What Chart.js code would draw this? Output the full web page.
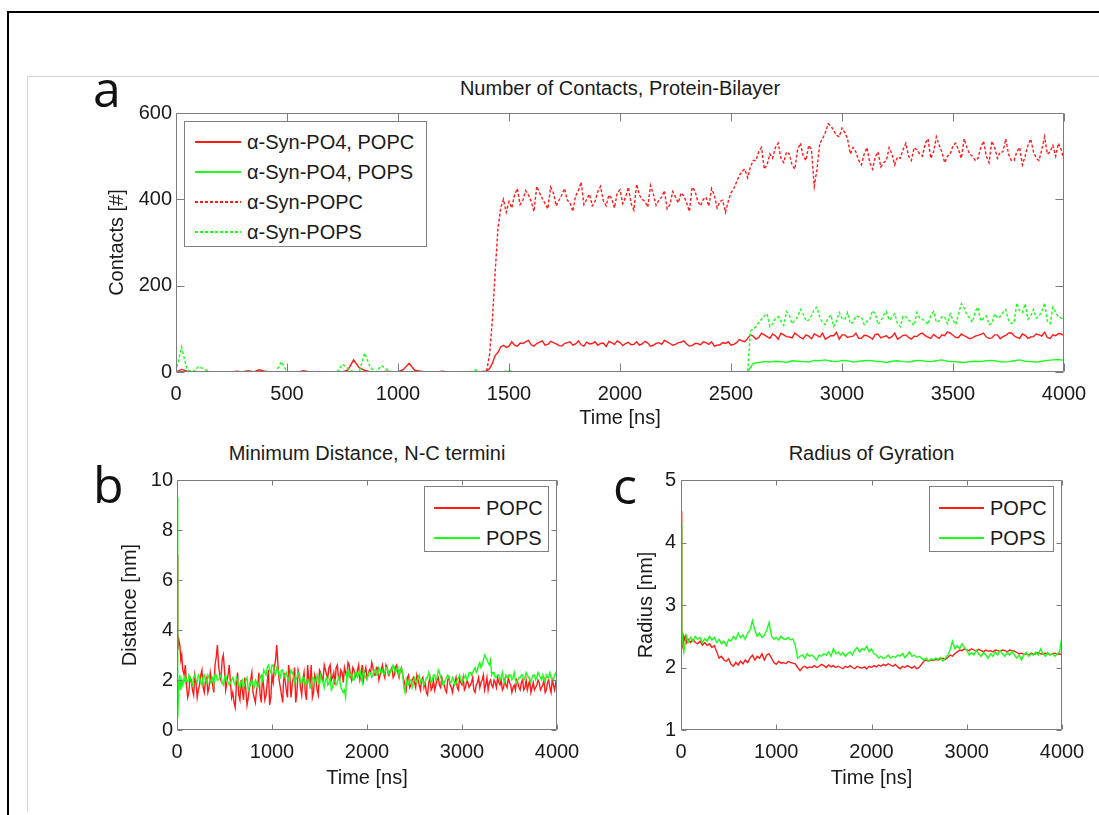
<!DOCTYPE html>
<html><head><meta charset="utf-8">
<script src="https://cdn.jsdelivr.net/npm/chart.js@4.4.1/dist/chart.umd.min.js"></script>
<style>
html,body{margin:0;padding:0;background:#fff;}
body{width:1099px;height:815px;position:relative;overflow:hidden;font-family:"Liberation Sans",Arial,sans-serif;color:#1a1a1a;}
.abs{position:absolute;}
#frameBlack{left:7px;top:11px;width:1100px;height:810px;border-left:2px solid #000;border-top:2px solid #000;}
#frameGrey{left:27px;top:76px;width:1080px;height:735px;border-left:1px solid #d6d6d6;border-top:1px solid #d6d6d6;}
.letter{font-family:"Open Sans",sans-serif;font-size:50px;line-height:50px;color:#111;}
.ptitle{font-size:20px;line-height:24px;text-align:center;white-space:nowrap;color:#1a1a1a;}
.legend{border:1px solid #808080;background:#fff;box-sizing:border-box;}
.leg-row{height:30px;display:flex;align-items:center;font-size:20px;white-space:nowrap;color:#1a1a1a;}
.leg-line{height:2px;margin-right:6px;flex:none;}
canvas{position:absolute;}
</style></head>
<body>
<div id="frameBlack" class="abs"></div>
<div id="frameGrey" class="abs"></div>

<div class="abs letter" style="left:93px;top:63px;">a</div>
<div class="abs letter" style="left:93px;top:459px;">b</div>
<div class="abs letter" style="left:613px;top:460px;">c</div>

<div class="abs ptitle" style="left:176px;width:888px;top:76px;">Number of Contacts, Protein-Bilayer</div>
<div class="abs ptitle" style="left:177px;width:380px;top:441px;">Minimum Distance, N-C termini</div>
<div class="abs ptitle" style="left:681px;width:381px;top:441px;">Radius of Gyration</div>

<canvas id="chartA" width="1069" height="345" style="left:30px;top:95px;"></canvas>
<canvas id="chartB" width="570" height="372" style="left:30px;top:440px;"></canvas>
<canvas id="chartC" width="499" height="372" style="left:600px;top:440px;"></canvas>

<div id="legA" class="abs legend" style="left:184px;top:121px;width:243px;height:126px;padding:5px 0 0 10px;"></div>
<div id="legB" class="abs legend" style="left:424px;top:486px;width:125px;height:66px;padding:6px 0 0 9px;"></div>
<div id="legC" class="abs legend" style="left:929px;top:486px;width:125px;height:66px;padding:6px 0 0 9px;"></div>

<script>
// ---------- Panel a: Number of contacts (main samples every 25 ns) ----------
const timeA = [];
for (let t = 0; t <= 4000; t += 25) timeA.push(t);

const contactsPO4POPC = [
0,6,2,0,0,0,0,0,0,0,
0,2,0,3,0,5,2,0,0,0,
0,0,0,3,0,0,0,0,0,0,
0,5,28,10,4,0,0,0,2,0,
0,6,20,4,2,0,0,0,2,0,
0,0,0,0,0,0,2,20,45,62,
60,62,67,70,63,66,72,64,68,61,
66,70,65,63,69,66,62,67,71,64,
68,66,63,70,65,67,62,68,73,66,
64,69,65,61,66,70,64,60,63,66,
62,68,72,78,83,80,86,78,84,90,
82,79,85,77,83,88,81,76,84,92,
86,80,83,78,85,81,87,79,84,82,
76,85,80,83,88,84,78,82,86,93,
85,80,84,77,83,87,81,79,86,82,
90,84,78,85,81,88,83,80,86,89,
84];
// extra in-between samples (t = 1412.5 + 25k)
const contactsPO4POPCmid = [
8,38,58,57,
70,60,66,73,60,69,62,71,65,60,
68,62,72,60,65,70,66,59,68,72,
61,69,64,62,71,60,66,64,70,62,
68,72,60,66,63,68,70,62,68,
70,
64,75,70,86,
76,90,82,88,76,86,81,90,80,86,
77,85,90,80,84,76,86,82,90,78,
84,76,88,82,78,90,80,86,76,82,
90,81,87,78,84,90,80,88,81,79,
85,90,78,86,77,85,91,80,88,78,
82,86,92,78,84,88];

const contactsPO4POPS = [
0,0,0,0,0,0,0,0,0,0,
0,0,0,0,0,0,0,0,0,0,
0,0,0,0,0,0,0,0,0,0,
0,0,0,0,0,0,0,0,0,0,
0,0,0,0,0,0,0,0,0,0,
0,0,0,0,0,0,0,0,0,0,
0,0,0,0,0,0,0,0,0,0,
0,0,0,0,0,0,0,0,0,0,
0,0,0,0,0,0,0,0,0,0,
0,0,0,0,0,0,0,0,0,0,
0,0,0,0,20,22,24,23,25,24,
22,26,25,24,23,27,26,28,25,24,
27,26,23,25,26,27,25,24,22,25,
26,24,23,26,27,25,24,26,28,25,
24,23,22,24,25,24,26,27,25,23,
24,26,28,25,24,23,25,27,28,29,
27];

const contactsPOPC = [
0,0,0,0,0,0,0,0,0,0,
0,0,0,0,0,0,0,0,0,0,
0,0,0,0,0,0,0,0,0,0,
0,0,0,0,0,0,0,0,0,0,
0,0,0,0,0,0,0,0,0,0,
0,0,0,0,0,0,5,120,330,400,
395,410,388,420,395,430,402,378,415,398,
425,392,408,440,400,385,418,396,410,380,
422,405,390,435,400,382,412,398,420,388,
405,415,392,428,396,400,384,410,395,370,
415,440,465,450,490,510,470,505,520,495,
510,480,515,500,525,430,530,555,570,548,
565,540,520,490,505,485,498,475,490,505,
498,515,500,520,505,530,495,545,510,500,
525,515,540,505,490,520,500,535,495,510,
505,490,520,500,540,495,515,505,525,530,
490];
// extra in-between samples (t = 1412.5 + 25k)
const contactsPOPCmid = [
40,230,380,370,
380,425,398,410,372,415,390,428,385,410,
398,372,420,388,412,395,430,385,402,415,
390,428,375,410,395,432,386,405,378,418,
392,408,372,420,385,405,425,380,398,
395,
425,455,470,475,
490,520,480,495,530,485,505,470,530,490,
515,470,540,575,560,545,555,505,510,480,
520,470,510,485,520,480,495,530,490,515,
500,540,510,525,485,505,530,495,520,500,
495,535,485,520,510,540,490,510,480,525,
510,490,545,510,500,515];

const contactsPOPS = [
0,58,5,0,12,8,0,0,0,0,
0,0,0,0,0,0,0,0,0,24,
0,0,0,0,0,0,0,0,0,0,
18,8,0,0,44,10,0,15,6,0,
0,0,0,0,0,0,0,0,0,0,
0,0,0,0,5,0,0,0,0,0,
4,0,0,0,0,0,0,0,0,0,
0,0,0,0,0,0,0,0,0,0,
0,0,0,0,0,0,0,0,0,0,
0,0,0,0,0,0,0,0,0,0,
0,0,0,0,100,115,130,105,125,118,
140,112,128,135,120,145,125,110,132,118,
124,138,115,128,110,122,135,118,140,126,
112,130,120,108,125,118,132,115,128,112,
120,135,148,125,140,118,130,112,125,138,
120,115,142,158,130,125,140,118,150,128,
120];
// extra in-between samples (t = 2587.5 + 25k)
const contactsPOPSmid = [
95,
105,122,135,112,128,108,132,120,145,118,
130,150,115,125,105,138,122,112,130,126,
118,142,110,132,120,135,105,128,115,138,
122,110,140,118,128,135,110,158,132,115,
150,125,110,135,128,145,112,160,138,122,
145,130,160,112,138,125];

const namesA = ['α-Syn-PO4, POPC', 'α-Syn-PO4, POPS', 'α-Syn-POPC', 'α-Syn-POPS'];
const xTicksA = [0,500,1000,1500,2000,2500,3000,3500,4000];
const yTicksA = [0,200,400,600];

// ---------- Panels b, c (early dense samples, then 25 ns step) ----------
const timeB = [0,5,10,20,30,40,50,60,75];
for (let t = 100; t <= 4000; t += 25) timeB.push(t);

const distPOPC = [7.0,6.2,3.2,3.6,3.4,2.8,3.0,2.4,2.2,
1.8,1.5,2.0,1.4,1.9,1.6,2.2,1.7,2.0,1.5,
2.3,1.8,2.6,3.4,2.2,2.8,2.4,1.9,2.6,1.3,
1.1,1.8,1.4,2.0,1.2,1.6,1.3,2.0,1.5,1.1,
1.8,1.4,2.2,1.2,1.9,1.0,2.2,2.5,3.4,2.0,
1.4,2.3,1.6,2.6,1.3,2.1,1.1,2.4,1.7,2.0,
1.5,2.6,1.8,1.3,2.2,1.6,2.4,2.1,2.6,2.2,
2.5,2.0,2.3,2.5,2.1,2.4,1.9,2.3,2.7,2.2,
2.5,2.1,2.4,2.0,2.6,2.3,2.1,2.4,2.7,2.2,
2.5,2.0,2.4,2.3,2.6,2.2,2.4,2.1,2.5,2.3,
2.4,2.2,1.8,2.1,1.7,2.0,1.9,2.2,1.8,2.0,
1.7,1.5,1.9,1.6,2.0,1.8,2.1,1.7,1.9,1.6,
2.0,1.8,1.5,1.9,1.7,2.1,1.8,1.6,2.0,1.7,
1.9,1.6,1.8,2.1,1.9,2.2,1.8,1.6,2.0,1.7,
1.9,2.1,1.8,1.6,2.0,1.7,1.9,1.5,1.8,2.0,
1.7,1.9,1.6,2.0,1.8,1.5,1.9,1.7,2.0,1.6,
1.8,1.5,1.9,1.7,2.0,1.6,1.8];
// extra in-between samples (t = 87.5 + 25k)
const distPOPCmid = [
2.6,1.3,2.1,1.6,2.2,1.3,1.8,2.4,1.5,2.1,
1.7,2.0,1.5,2.9,2.6,2.0,3.0,1.6,2.2,1.9,
1.5,0.9,2.3,1.2,1.6,2.1,1.0,1.7,2.3,1.3,
1.6,2.3,1.1,1.7,1.4,2.4,1.3,1.9,2.8,2.6,
1.7,1.1,2.0,1.3,2.2,1.8,2.5,1.5,2.2,1.4,
2.3,1.2,2.0,2.6,1.5,2.0,1.4,2.3,2.0,2.4,
2.1,2.6,2.1,1.8,2.6,2.0,2.3,2.5,2.1,2.6,
2.0,2.4,2.2,2.6,2.2,2.0,2.5,2.2,2.3,2.5,
2.2,2.5,2.2,2.6,2.1,2.5,2.3,2.5,2.2,2.6,
2.1,2.5,2.0,1.6,2.2,1.8,2.1,1.7,2.0,1.6,
2.1,1.9,1.4,2.1,1.7,1.6,2.0,1.8,2.1,1.8,
1.5,2.1,1.7,1.8,2.1,1.6,1.9,2.1,1.7,1.9,
1.8,2.1,1.5,1.9,1.7,2.0,1.6,2.1,1.9,1.8,
2.0,1.7,1.9,2.0,1.7,1.8,2.1,1.8,1.7,1.6,
1.9,1.6,2.0,1.7,1.6,2.0,1.7,1.6,1.8,1.9,
1.7,2.0,1.6,2.0,1.5,1.8,1.9];

const distPOPS = [9.3,4.0,0.5,1.8,2.2,1.6,2.0,1.8,2.1,
2.0,2.2,1.9,2.1,2.0,2.2,1.9,2.1,2.0,2.2,
1.9,2.1,2.2,2.0,2.1,1.9,2.1,2.0,1.8,2.0,
1.9,2.1,1.8,1.9,1.7,2.0,1.6,1.9,1.8,2.0,
1.7,2.1,2.0,2.3,2.5,2.4,2.6,2.3,2.5,2.2,
2.4,2.1,2.3,2.0,2.4,2.2,2.0,2.3,1.9,2.1,
1.8,2.0,1.7,2.1,1.9,2.2,1.8,2.0,1.7,2.1,
1.9,1.6,2.0,1.8,2.1,1.7,1.5,1.3,2.4,2.2,
2.0,2.3,2.1,2.4,1.9,2.2,2.0,2.3,2.1,2.4,
2.2,2.5,2.3,2.2,2.5,2.3,2.4,2.6,2.3,2.5,
2.4,2.3,1.5,1.8,2.0,1.7,2.1,1.9,2.2,2.0,
1.8,2.1,2.3,1.9,2.2,2.0,2.4,2.1,1.8,2.0,
2.2,1.9,2.1,1.8,2.0,2.2,1.9,2.1,2.0,2.3,
2.2,2.4,2.3,2.6,2.5,2.8,2.9,2.7,2.8,2.3,
2.1,2.2,2.0,2.3,1.9,2.1,2.2,2.0,2.3,1.9,
2.1,2.2,2.0,2.3,2.1,1.9,2.2,2.0,2.3,2.1,
2.2,1.9,2.1,2.3,2.0,2.2,2.1];
// extra in-between samples (t = 87.5 + 25k)
const distPOPSmid = [
1.9,1.9,2.1,1.8,2.2,1.9,2.1,1.8,2.2,1.9,
2.1,2.0,1.8,2.2,2.0,2.2,1.8,2.2,1.9,1.9,
2.1,1.8,2.0,1.7,2.0,1.8,2.1,1.7,2.0,1.7,
1.9,1.8,2.2,2.4,2.2,2.6,2.3,2.6,2.2,2.4,
2.1,2.4,2.2,2.1,2.2,2.3,1.9,2.1,2.2,1.9,
2.1,1.9,2.0,1.8,2.1,2.0,1.9,2.2,1.9,2.0,
1.8,2.1,1.7,2.0,1.9,2.0,1.6,1.6,2.3,2.1,
2.2,2.0,2.3,2.2,2.1,2.4,2.1,2.2,2.3,2.2,
2.4,2.2,2.4,2.4,2.3,2.5,2.2,2.4,2.5,2.4,
2.2,2.5,1.7,2.0,1.8,2.0,1.9,2.0,2.1,1.9,
2.0,1.9,2.1,2.1,2.0,2.2,2.1,2.3,2.0,1.9,
2.1,2.1,1.9,2.0,1.9,2.1,2.0,2.0,2.2,2.1,
2.3,2.3,2.5,2.4,2.7,2.6,3.0,2.8,2.6,2.2,
2.3,2.1,2.2,2.1,2.0,2.2,2.1,2.2,2.1,2.0,
2.0,2.1,2.2,2.1,2.2,2.0,2.1,2.2,2.1,2.2,
2.0,2.0,2.2,2.1,2.1,2.0,2.3];

const rgPOPC = [4.5,3.5,2.6,2.3,2.5,2.45,2.5,2.4,2.45,
2.4,2.45,2.4,2.38,2.42,2.36,2.4,2.35,2.38,2.32,
2.35,2.25,2.15,2.18,2.12,2.1,2.14,2.05,2.02,2.08,
2.04,2.1,2.06,2.12,2.08,2.15,2.2,2.12,2.18,2.15,
2.22,2.12,2.2,2.22,2.15,2.08,2.05,2.1,2.07,2.08,
2.06,2.1,2.08,2.07,2.06,2.0,1.95,2.0,2.02,1.99,
2.01,2.0,2.03,2.0,2.02,2.05,2.03,2.0,2.04,2.01,
2.03,2.0,2.02,2.0,1.98,2.02,2.0,2.03,2.0,1.98,
2.02,2.0,1.99,2.01,1.98,2.02,2.0,2.03,2.01,2.04,
2.02,2.05,2.03,2.06,2.04,2.02,2.05,2.01,1.98,2.02,
2.0,2.03,2.01,1.99,2.02,1.98,2.0,2.05,2.1,2.12,
2.1,2.12,2.11,2.13,2.12,2.14,2.15,2.13,2.16,2.2,
2.18,2.22,2.25,2.28,2.27,2.3,2.28,2.27,2.3,2.28,
2.26,2.29,2.27,2.25,2.28,2.26,2.27,2.25,2.28,2.27,
2.26,2.28,2.27,2.25,2.28,2.27,2.26,2.24,2.22,2.23,
2.21,2.22,2.2,2.23,2.21,2.22,2.24,2.22,2.21,2.23,
2.22,2.2,2.22,2.23,2.21,2.22,2.2];

const rgPOPS = [4.3,3.0,2.6,2.4,2.25,2.35,2.45,2.5,2.4,
2.48,2.42,2.5,2.45,2.48,2.4,2.46,2.42,2.5,2.44,
2.48,2.4,2.45,2.38,2.42,2.35,2.45,2.42,2.5,2.45,
2.55,2.48,2.52,2.45,2.55,2.6,2.75,2.6,2.5,2.55,
2.48,2.52,2.6,2.72,2.5,2.45,2.48,2.44,2.5,2.46,
2.45,2.48,2.44,2.46,2.35,2.15,2.18,2.2,2.15,2.22,
2.18,2.2,2.16,2.12,2.2,2.18,2.22,2.2,2.25,2.18,
2.3,2.22,2.25,2.2,2.24,2.18,2.22,2.25,2.2,2.28,
2.32,2.25,2.3,2.28,2.34,2.25,2.3,2.22,2.2,2.15,
2.18,2.14,2.16,2.2,2.15,2.18,2.16,2.2,2.18,2.22,
2.16,2.2,2.25,2.18,2.2,2.16,2.18,2.15,2.12,2.15,
2.1,2.14,2.12,2.15,2.13,2.16,2.1,2.15,2.2,2.28,
2.42,2.3,2.35,2.3,2.38,2.32,2.28,2.2,2.24,2.2,
2.28,2.22,2.18,2.24,2.2,2.15,2.22,2.18,2.25,2.2,
2.27,2.22,2.18,2.24,2.2,2.26,2.2,2.15,2.2,2.12,
2.2,2.24,2.18,2.22,2.2,2.25,2.2,2.3,2.22,2.18,
2.24,2.2,2.22,2.18,2.22,2.25,2.5];

const namesBC = ['POPC', 'POPS'];
const xTicksBC = [0,1000,2000,3000,4000];
const yTicksB = [0,2,4,6,8,10];
const yTicksC = [1,2,3,4,5];

// ---------- helpers ----------
function midTimes(start, count) {
  const out = [];
  for (let k = 0; k < count; k++) out.push(start + 25 * k);
  return out;
}
function toPoints(times, values, mTimes, mValues) {
  const pts = times.map((t, i) => ({x: t, y: values[i]}));
  if (mTimes) mTimes.forEach((t, i) => pts.push({x: t, y: mValues[i]}));
  pts.sort((p, q) => p.x - q.x);
  return pts;
}

// ---------- styling ----------
const RED = '#ff1a1a', GREEN = '#1aff1a';
const FONT = {family: '"Liberation Sans", Arial, sans-serif', size: 20};
const TXT = '#1a1a1a';

const boxTicks = {
  id: 'boxTicks',
  afterDatasetsDraw(chart, args, opts) {
    const {ctx, chartArea: a} = chart;
    const xs = chart.scales.x, ys = chart.scales.y;
    const L = opts.len;
    const l = Math.round(a.left) + 0.5, r = Math.round(a.right) - 0.5;
    const t = Math.round(a.top) + 0.5, b = Math.round(a.bottom) - 0.5;
    ctx.save();
    ctx.strokeStyle = '#7c7c7c';
    ctx.lineWidth = 1;
    ctx.beginPath();
    ctx.rect(l, t, r - l, b - t);
    xs.ticks.forEach(tk => {
      const p = Math.round(xs.getPixelForValue(tk.value)) + 0.5;
      ctx.moveTo(p, b); ctx.lineTo(p, b - L);
      ctx.moveTo(p, t); ctx.lineTo(p, t + L);
    });
    ys.ticks.forEach(tk => {
      const p = Math.round(ys.getPixelForValue(tk.value)) + 0.5;
      ctx.moveTo(l, p); ctx.lineTo(l + L, p);
      ctx.moveTo(r, p); ctx.lineTo(r - L, p);
    });
    ctx.stroke();
    ctx.restore();
  }
};

function makeChart(id, series, o) {
  const n = series.length;
  return new Chart(document.getElementById(id), {
    type: 'line',
    data: {
      datasets: series.map((s, i) => ({
        label: s.label,
        data: s.points,
        borderColor: s.color,
        borderWidth: 1.4,
        borderDash: s.dash,
        pointRadius: 0,
        fill: false,
        tension: 0,
        order: n - i
      }))
    },
    options: {
      responsive: false,
      animation: false,
      events: [],
      parsing: true,
      layout: {padding: o.pad},
      plugins: {legend: {display: false}, title: {display: false}, tooltip: {enabled: false}, boxTicks: {len: o.tickLen}},
      scales: {
        x: {
          type: 'linear', min: 0, max: 4000,
          grid: {display: false, drawTicks: false}, border: {display: false},
          afterBuildTicks: s => { s.ticks = o.xTicks.map(v => ({value: v})); },
          ticks: {padding: o.xPad, color: TXT, font: FONT, maxRotation: 0, autoSkip: false, callback: v => String(v)},
          title: {display: true, text: 'Time [ns]', color: TXT, font: FONT, padding: {top: 0, bottom: o.xtPad}},
          afterFit: s => { s.height = o.xH; }
        },
        y: {
          type: 'linear', min: o.yMin, max: o.yMax,
          grid: {display: false, drawTicks: false}, border: {display: false},
          afterBuildTicks: s => { s.ticks = o.yTicks.map(v => ({value: v})); },
          ticks: {padding: o.yPad, color: TXT, font: FONT, autoSkip: false, callback: v => String(v)},
          title: {display: true, text: o.yTitle, color: TXT, font: FONT, padding: {top: o.ytPad, bottom: 0}},
          afterFit: s => { s.width = o.yW; }
        }
      }
    },
    plugins: [boxTicks]
  });
}

const seriesA = [
  {label: namesA[0], color: RED, dash: [],
   points: toPoints(timeA, contactsPO4POPC, midTimes(1412.5, contactsPO4POPCmid.length), contactsPO4POPCmid)},
  {label: namesA[1], color: GREEN, dash: [],
   points: toPoints(timeA, contactsPO4POPS)},
  {label: namesA[2], color: RED, dash: [3, 2],
   points: toPoints(timeA, contactsPOPC, midTimes(1412.5, contactsPOPCmid.length), contactsPOPCmid)},
  {label: namesA[3], color: GREEN, dash: [3, 2],
   points: toPoints(timeA, contactsPOPS, midTimes(2587.5, contactsPOPSmid.length), contactsPOPSmid)}
];
const seriesB = [
  {label: namesBC[0], color: RED, dash: [],
   points: toPoints(timeB, distPOPC, midTimes(87.5, distPOPCmid.length), distPOPCmid)},
  {label: namesBC[1], color: GREEN, dash: [],
   points: toPoints(timeB, distPOPS, midTimes(87.5, distPOPSmid.length), distPOPSmid)}
];
const seriesC = [
  {label: namesBC[0], color: RED, dash: [], points: toPoints(timeB, rgPOPC)},
  {label: namesBC[1], color: GREEN, dash: [], points: toPoints(timeB, rgPOPS)}
];

makeChart('chartA', seriesA, {
  pad: {top: 18, right: 35, left: 0, bottom: 0}, tickLen: 8,
  xTicks: xTicksA, yTicks: yTicksA, yMin: 0, yMax: 600,
  xPad: 10, xtPad: 10, xH: 68, yPad: 4, ytPad: 75, yW: 146, yTitle: 'Contacts [#]'
});
makeChart('chartB', seriesB, {
  pad: {top: 40, right: 43, left: 0, bottom: 0}, tickLen: 5,
  xTicks: xTicksBC, yTicks: yTicksB, yMin: 0, yMax: 10,
  xPad: 10, xtPad: 22, xH: 82, yPad: 4, ytPad: 88, yW: 147, yTitle: 'Distance [nm]'
});
makeChart('chartC', seriesC, {
  pad: {top: 40, right: 37, left: 0, bottom: 0}, tickLen: 5,
  xTicks: xTicksBC, yTicks: yTicksC, yMin: 1, yMax: 5,
  xPad: 10, xtPad: 22, xH: 82, yPad: 5, ytPad: 34, yW: 81, yTitle: 'Radius [nm]'
});

// ---------- HTML legends ----------
function buildLegend(id, series, lineW) {
  const box = document.getElementById(id);
  series.forEach(s => {
    const row = document.createElement('div');
    row.className = 'leg-row';
    const ln = document.createElement('div');
    ln.className = 'leg-line';
    ln.style.width = lineW + 'px';
    if (s.dash.length) {
      ln.style.background = 'repeating-linear-gradient(90deg,' + s.color + ' 0 3px, transparent 3px 5px)';
    } else {
      ln.style.background = s.color;
    }
    const tx = document.createElement('span');
    tx.textContent = s.label;
    row.appendChild(ln); row.appendChild(tx);
    box.appendChild(row);
  });
}
buildLegend('legA', seriesA, 46);
buildLegend('legB', seriesB, 46);
buildLegend('legC', seriesC, 45);
</script>
</body></html>
